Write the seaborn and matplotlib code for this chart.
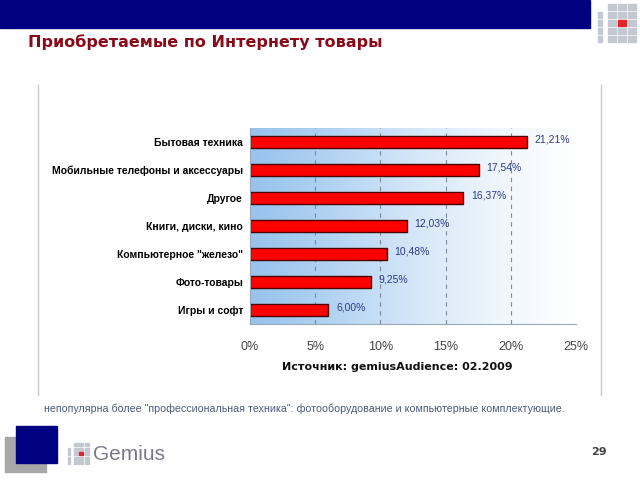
import numpy as np
import pandas as pd
import matplotlib
matplotlib.use('Agg')
import matplotlib.pyplot as plt
import seaborn as sb
from matplotlib.colors import LinearSegmentedColormap
from matplotlib.patches import Rectangle

categories = ['Бытовая техника', 'Мобильные телефоны и аксессуары', 'Другое',
              'Книги, диски, кино', 'Компьютерное "железо"', 'Фото-товары', 'Игры и софт']
values = [21.21, 17.54, 16.37, 12.03, 10.48, 9.25, 6.00]
value_labels = ['21,21%', '17,54%', '16,37%', '12,03%', '10,48%', '9,25%', '6,00%']
ticks = [0, 5, 10, 15, 20, 25]
tick_labels = ['0%', '5%', '10%', '15%', '20%', '25%']

df = pd.DataFrame({'cat': categories, 'val': values})

sb.set_style('white')
plt.rcParams['font.family'] = ['DejaVu Sans']
narrow = ['Liberation Sans', 'DejaVu Sans']

fig = plt.figure(figsize=[6.4, 4.8], dpi=100, facecolor='white')
W, H = 640, 480


def box(x, y, w, h, c, z=0):
    # rectangle in slide pixels (top-left origin)
    fig.patches.append(Rectangle((x/W, 1 - (y + h)/H), w/W, h/H, transform=fig.transFigure,
                                 color=c, zorder=z))


def logo(x0, y0, cw, ch, gap):
    # small grid of grey cells with one red cell
    for c in range(4):
        for r in range(5):
            if c == 0 and r < 1:
                continue
            col = '#e0262b' if (c == 2 and r == 2) else '#c4c8d0'
            box(x0 + c*(cw + gap), y0 + r*(ch + gap), cw if c else cw*0.5, ch, col)


# slide decoration
box(0, 0, 590, 28, '#000080')
logo(598, 4, 8, 6, 2)
fig.text(28/W, 1 - 42/H, 'Приобретаемые по Интернету товары', color='#8b0a1a',
         fontsize=11.5, fontweight='bold', va='center', ha='left')
for xv in [38, 601]:
    fig.lines.append(plt.Line2D([xv/W, xv/W], [1 - 85/H, 1 - 395/H],
                                transform=fig.transFigure, color='#c8c8c8', lw=1))

ax = fig.add_axes([250/W, 1 - 324/H, 326/W, 196/H])

# gradient background
grad = np.linspace(0, 1, 256).reshape(1, -1)
cmap = LinearSegmentedColormap.from_list('bg', ['#97c3ec', '#b3d3f2', '#d4e7f8', '#eef5fc', '#ffffff'])
ax.imshow(grad, extent=[0, 25, 6.5, -0.5], aspect='auto', cmap=cmap, zorder=0)

for x in [5, 10, 15, 20]:
    ax.axvline(x, color='#7a8a9a', ls=(0, (4, 4)), lw=0.8, zorder=1)

sb.barplot(data=df, x='val', y='cat', orient='h', color='#ff0000', edgecolor='#4a0000',
           linewidth=1, width=0.45, saturation=1, ax=ax, zorder=2)

for i, (v, lab) in enumerate(zip(values, value_labels)):
    ax.text(v + 0.6, i - 0.1, lab, color='#2e3a8c', fontsize=7.5, va='center', ha='left',
            family=narrow)

ax.set_xlim(0, 25)
ax.set_ylim(6.5, -0.5)
ax.set_xticks(ticks)
ax.set_xticklabels(tick_labels, family=narrow, fontsize=9, color='#444444')
ax.set_yticks(range(len(categories)))
ax.set_yticklabels(categories, family=narrow, fontsize=7.5, fontweight='bold', color='black')
ax.tick_params(axis='x', pad=12, length=0)
ax.tick_params(axis='y', pad=5, length=0)
ax.set_xlabel('')
ax.set_ylabel('')
for s in ['top', 'right']:
    ax.spines[s].set_visible(False)
ax.spines['left'].set_color('#9aa8b8')
ax.spines['bottom'].set_color('#9aa8b8')

fig.text(397/W, 1 - 367/H, 'Источник: gemiusAudience: 02.2009', fontsize=8,
         fontweight='bold', ha='center', va='center', color='#111111')

fig.text(44/W, 1 - 409/H,
         'непопулярна более "профессиональная техника": фотооборудование и компьютерные комплектующие.',
         fontsize=7.7, color='#4a5a7a', ha='left', va='center', family=narrow)

# footer squares and logo text
box(5, 437, 41, 35, '#a8a8a8', 0)
box(16, 426, 41, 37, '#000080', 1)
logo(68, 443, 4, 3, 1.5)
fig.text(93/W, 1 - 454/H, 'Gemius', fontsize=15, color='#7a7a8a', ha='left', va='center',
         family=narrow)
fig.text(607/W, 1 - 452/H, '29', fontsize=8, color='#444444', ha='right', va='center',
         fontweight='bold')

plt.savefig('out.png', dpi=100)
